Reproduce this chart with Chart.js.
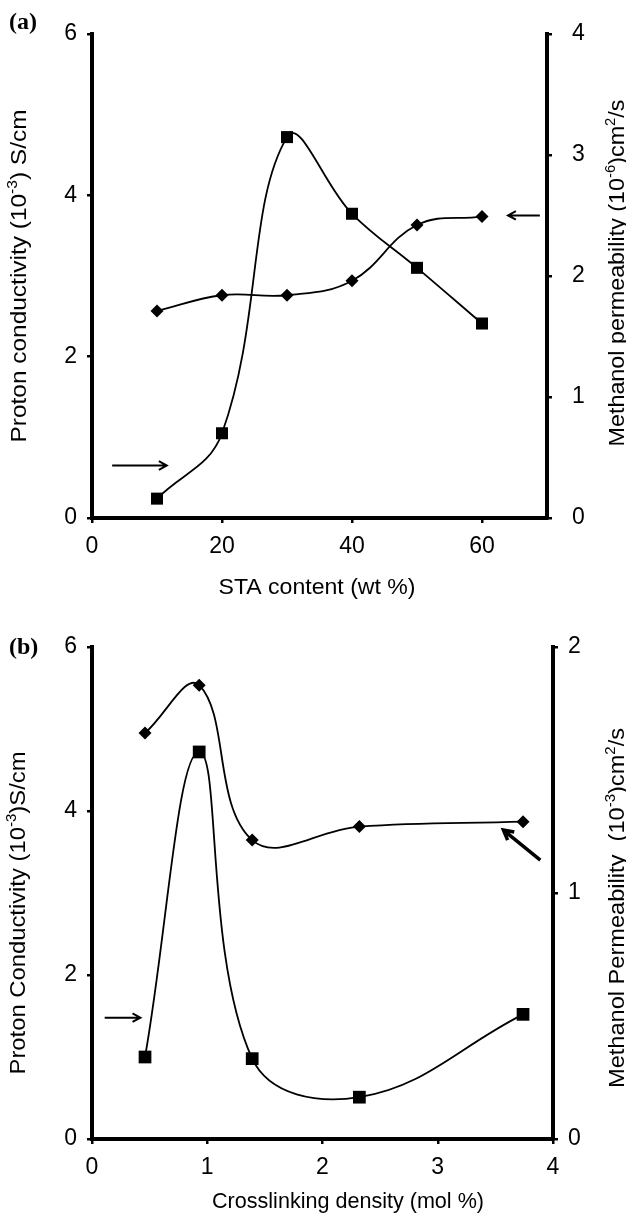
<!DOCTYPE html>
<html lang="en">
<head>
<meta charset="UTF-8">
<title>Proton conductivity and methanol permeability</title>
<script src="https://cdn.jsdelivr.net/npm/chart.js"></script>
<style>
  html, body { margin: 0; padding: 0; background: #fff; }
  .panel { position: relative; width: 626px; height: 610px; }
  canvas { display: block; }
</style>
</head>
<body>
<div class="panel"><canvas id="chartA" width="626" height="610"></canvas></div>
<div class="panel"><canvas id="chartB" width="626" height="610"></canvas></div>
<script>
  // (a) STA content
  const staContent = [10, 20, 30, 40, 50, 60];
  const protonA = [0.24, 1.05, 4.72, 3.77, 3.10, 2.41];     // 10^-3 S/cm (left axis)
  const methanolA = [1.71, 1.84, 1.84, 1.96, 2.42, 2.49];   // 10^-6 cm2/s (right axis)
  const xTicksA = [0, 20, 40, 60];
  const leftTicksA = [0, 2, 4, 6];
  const rightTicksA = [0, 1, 2, 3, 4];

  // (b) crosslinking density
  const crosslink = [0.46, 0.93, 1.39, 2.32, 3.74];
  const protonB = [1.00, 4.72, 0.98, 0.51, 1.52];
  const methanolB = [1.65, 1.845, 1.215, 1.27, 1.29];
  const xTicksB = [0, 1, 2, 3, 4];
  const leftTicksB = [0, 2, 4, 6];
  const rightTicksB = [0, 1, 2];

  // arrows telling which curve goes with which axis (data coordinates)
  const arrowsA = [
    { axis: 'y', from: [3.1, 0.65], to: [11.5, 0.65], head: 9, width: 2 },
    { axis: 'y1', from: [68.9, 2.5], to: [64.0, 2.5], head: 9, width: 2 }
  ];
  const arrowsB = [
    { axis: 'y', from: [0.11, 1.48], to: [0.42, 1.48], head: 9, width: 2 },
    { axis: 'y1', from: [3.89, 1.134], to: [3.57, 1.256], head: 11, width: 3.5 }
  ];

  const SANS = '"Liberation Sans", Arial, sans-serif';

  // draws text with superscript parts, rotated, stretched to a given length
  function drawRich(ctx, parts, cx, cy, rot, size, len) {
    ctx.save();
    ctx.translate(cx, cy);
    ctx.rotate(rot);
    const big = size + 'px ' + SANS;
    const small = Math.round(size * 0.62) + 'px ' + SANS;
    let total = 0;
    parts.forEach(p => { ctx.font = p[1] ? small : big; total += ctx.measureText(p[0]).width; });
    if (len) ctx.scale(len / total, 1);
    ctx.fillStyle = '#000';
    ctx.textAlign = 'left';
    ctx.textBaseline = 'alphabetic';
    let x = -total / 2;
    parts.forEach(p => {
      ctx.font = p[1] ? small : big;
      ctx.fillText(p[0], x, p[1] ? -size * 0.4 : 0);
      x += ctx.measureText(p[0]).width;
    });
    ctx.restore();
  }

  function drawArrow(ctx, x1, y1, x2, y2, head, w) {
    const ang = Math.atan2(y2 - y1, x2 - x1);
    ctx.save();
    ctx.strokeStyle = '#000';
    ctx.lineWidth = w;
    ctx.lineCap = 'butt';
    ctx.beginPath();
    ctx.moveTo(x1, y1);
    ctx.lineTo(x2, y2);
    ctx.moveTo(x2 - head * Math.cos(ang - 0.5), y2 - head * Math.sin(ang - 0.5));
    ctx.lineTo(x2, y2);
    ctx.lineTo(x2 - head * Math.cos(ang + 0.5), y2 - head * Math.sin(ang + 0.5));
    ctx.stroke();
    ctx.restore();
  }

  const decoPlugin = {
    id: 'deco',
    afterDraw(chart, args, o) {
      const ctx = chart.ctx;
      const xs = chart.scales.x;
      o.arrows.forEach(a => {
        const ys = chart.scales[a.axis];
        drawArrow(ctx,
          xs.getPixelForValue(a.from[0]), ys.getPixelForValue(a.from[1]),
          xs.getPixelForValue(a.to[0]), ys.getPixelForValue(a.to[1]),
          a.head, a.width);
      });
      o.titles.forEach(t => drawRich(ctx, t.parts, t.x, t.y, t.rot, t.size, t.len));
      ctx.save();
      ctx.font = 'bold 24px "Liberation Serif", "Times New Roman", serif';
      ctx.fillStyle = '#000';
      ctx.textBaseline = 'alphabetic';
      ctx.fillText(o.panel, 9, o.panelY);
      ctx.restore();
    }
  };

  function tickAxis(position, min, max, ticks, fitSize, pad) {
    return {
      type: 'linear',
      position: position,
      min: min,
      max: max,
      afterBuildTicks: s => { s.ticks = ticks.map(v => ({ value: v })); },
      afterFit: s => {
        if (position === 'bottom') s.height = fitSize; else s.width = fitSize;
      },
      grid: { drawOnChartArea: false, drawTicks: true, tickLength: 5, lineWidth: 2.5, color: '#000' },
      border: { display: true, color: '#000', width: 4 },
      ticks: { color: '#000', padding: pad, font: { family: SANS, size: 23 } },
      title: { display: false }
    };
  }

  function makeChart(id, cfg) {
    const toPts = (xs, ys) => xs.map((x, i) => ({ x: x, y: ys[i] }));
    return new Chart(document.getElementById(id), {
      type: 'line',
      data: {
        datasets: [{
          label: 'Proton conductivity',
          data: toPts(cfg.xs, cfg.proton),
          yAxisID: 'y',
          borderColor: '#000',
          backgroundColor: '#000',
          borderWidth: 1.8,
          pointStyle: 'rect',
          pointRadius: cfg.sqR,
          pointBorderWidth: 0,
          tension: 0.4,
          clip: false
        }, {
          label: 'Methanol permeability',
          data: toPts(cfg.xs, cfg.methanol),
          yAxisID: 'y1',
          borderColor: '#000',
          backgroundColor: '#000',
          borderWidth: 1.8,
          pointStyle: 'rectRot',
          pointRadius: 6.5,
          pointBorderWidth: 0,
          tension: 0.4,
          clip: false
        }]
      },
      options: {
        responsive: false,
        animation: false,
        devicePixelRatio: 1,
        layout: { padding: { top: cfg.top, left: 0, right: 0, bottom: 0 } },
        scales: {
          x: tickAxis('bottom', cfg.xMin, cfg.xMax, cfg.xTicks, cfg.xH, 10),
          y: tickAxis('left', 0, 6, cfg.leftTicks, 92, 10),
          y1: tickAxis('right', 0, cfg.rMax, cfg.rightTicks, cfg.rW, cfg.rPad)
        },
        plugins: {
          legend: { display: false },
          tooltip: { enabled: false },
          deco: cfg.deco
        }
      },
      plugins: [decoPlugin]
    });
  }

  makeChart('chartA', {
    xs: staContent, proton: protonA, methanol: methanolA,
    xMin: 0, xMax: 70, xTicks: xTicksA, leftTicks: leftTicksA, rightTicks: rightTicksA,
    rMax: 4, top: 22, xH: 92, rW: 79, rPad: 20, sqR: 8.5,
    deco: {
      arrows: arrowsA,
      panel: '(a)', panelY: 29,
      titles: [
        { parts: [['Proton conductivity (10', 0], ['-3', 1], [') S/cm', 0]], x: 26, y: 276, rot: -Math.PI / 2, size: 22, len: 333 },
        { parts: [['Methanol permeability (10', 0], ['-6', 1], [')cm', 0], ['2', 1], ['/s', 0]], x: 624, y: 273, rot: -Math.PI / 2, size: 22, len: 347 },
        { parts: [['STA content (wt %)', 0]], x: 317, y: 594, rot: 0, size: 22, len: 197 }
      ]
    }
  });

  makeChart('chartB', {
    xs: crosslink, proton: protonB, methanol: methanolB,
    xMin: 0, xMax: 4, xTicks: xTicksB, leftTicks: leftTicksB, rightTicks: rightTicksB,
    rMax: 2, top: 37, xH: 81, rW: 73, rPad: 10, sqR: 9,
    deco: {
      arrows: arrowsB,
      panel: '(b)', panelY: 44,
      titles: [
        { parts: [['Proton Conductivity (10', 0], ['-3', 1], [')S/cm', 0]], x: 25, y: 303, rot: -Math.PI / 2, size: 22, len: 323 },
        { parts: [['Methanol Permeability  (10', 0], ['-3', 1], [')cm', 0], ['2', 1], ['/s', 0]], x: 624, y: 298, rot: -Math.PI / 2, size: 22, len: 360 },
        { parts: [['Crosslinking density (mol %)', 0]], x: 348, y: 598, rot: 0, size: 22, len: 272 }
      ]
    }
  });
</script>
</body>
</html>
